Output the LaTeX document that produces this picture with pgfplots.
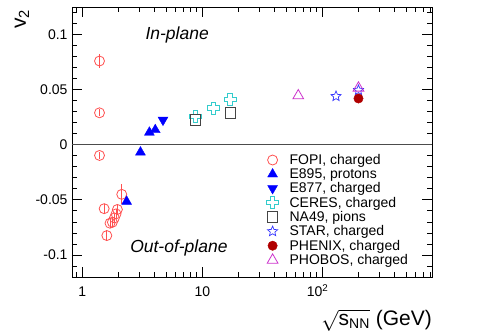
\documentclass[border=0pt]{standalone}
\usepackage{fontspec}
\setmainfont{Liberation Sans}
\usepackage{pgfplots}
\pgfplotsset{compat=1.18}

\definecolor{fopi}{RGB}{255,80,80}
\definecolor{eblue}{RGB}{0,0,255}
\definecolor{ceres}{RGB}{51,204,204}
\definecolor{na49}{RGB}{68,68,68}
\definecolor{star}{RGB}{51,51,255}
\definecolor{phenix}{RGB}{176,0,0}
\definecolor{phobos}{RGB}{204,51,204}

% open cross (outline of a plus sign)
\pgfdeclareplotmark{ocross}{%
  \pgfpathmoveto{\pgfpoint{0.35\pgfplotmarksize}{\pgfplotmarksize}}%
  \pgfpathlineto{\pgfpoint{0.35\pgfplotmarksize}{0.35\pgfplotmarksize}}%
  \pgfpathlineto{\pgfpoint{\pgfplotmarksize}{0.35\pgfplotmarksize}}%
  \pgfpathlineto{\pgfpoint{\pgfplotmarksize}{-0.35\pgfplotmarksize}}%
  \pgfpathlineto{\pgfpoint{0.35\pgfplotmarksize}{-0.35\pgfplotmarksize}}%
  \pgfpathlineto{\pgfpoint{0.35\pgfplotmarksize}{-\pgfplotmarksize}}%
  \pgfpathlineto{\pgfpoint{-0.35\pgfplotmarksize}{-\pgfplotmarksize}}%
  \pgfpathlineto{\pgfpoint{-0.35\pgfplotmarksize}{-0.35\pgfplotmarksize}}%
  \pgfpathlineto{\pgfpoint{-\pgfplotmarksize}{-0.35\pgfplotmarksize}}%
  \pgfpathlineto{\pgfpoint{-\pgfplotmarksize}{0.35\pgfplotmarksize}}%
  \pgfpathlineto{\pgfpoint{-0.35\pgfplotmarksize}{0.35\pgfplotmarksize}}%
  \pgfpathlineto{\pgfpoint{-0.35\pgfplotmarksize}{\pgfplotmarksize}}%
  \pgfpathclose
  \pgfusepathqstroke
}
% open five-pointed star
\pgfdeclareplotmark{ostar}{%
  \pgfpathmoveto{\pgfpointpolar{90}{\pgfplotmarksize}}%
  \pgfpathlineto{\pgfpointpolar{126}{0.45\pgfplotmarksize}}%
  \pgfpathlineto{\pgfpointpolar{162}{\pgfplotmarksize}}%
  \pgfpathlineto{\pgfpointpolar{198}{0.45\pgfplotmarksize}}%
  \pgfpathlineto{\pgfpointpolar{234}{\pgfplotmarksize}}%
  \pgfpathlineto{\pgfpointpolar{270}{0.45\pgfplotmarksize}}%
  \pgfpathlineto{\pgfpointpolar{306}{\pgfplotmarksize}}%
  \pgfpathlineto{\pgfpointpolar{342}{0.45\pgfplotmarksize}}%
  \pgfpathlineto{\pgfpointpolar{18}{\pgfplotmarksize}}%
  \pgfpathlineto{\pgfpointpolar{54}{0.45\pgfplotmarksize}}%
  \pgfpathclose
  \pgfusepathqstroke
}

\begin{document}
\begin{tikzpicture}
\begin{axis}[
  name=ax,
  at={(0,0)}, anchor=south west,
  scale only axis,
  width=360pt, height=270pt,
  xmode=log,
  xmin=0.82, xmax=820,
  ymin=-0.12, ymax=0.125,
  xtick={1,10,100},
  xticklabels={1,10,\makebox[0pt][r]{10}\makebox[0pt][l]{\textsuperscript{2}}},
  minor xtick={0.9,2,3,4,5,6,7,8,9,20,30,40,50,60,70,80,90,200,300,400,500,600,700,800},
  ytick={-0.1,-0.05,0,0.05,0.1},
  yticklabels={-0.1,-0.05,0,0.05,0.1},
  minor ytick={-0.11,-0.09,-0.08,-0.07,-0.06,-0.04,-0.03,-0.02,-0.01,0.01,0.02,0.03,0.04,0.06,0.07,0.08,0.09,0.11,0.12},
  tick align=inside,
  major tick length=10pt,
  minor tick length=5pt,
  tick style={black, line width=0.8pt},
  axis line style={line width=0.9pt},
  ticklabel style={font=\fontsize{14}{14}\selectfont},
  xticklabel style={anchor=base, yshift=-19.5pt, inner sep=0.5pt},
  yticklabel style={xshift=-1pt},
  xlabel={$\sqrt{\mbox{s}_{\mbox{\fontsize{14}{14}\selectfont NN}}}$ (GeV)},
  xlabel style={font=\fontsize{21}{21}\selectfont, inner sep=0pt, at={(axis description cs:1,-0.179)}, anchor=base east},
  ylabel={v\textsubscript{2}},
  ylabel style={font=\fontsize{21}{21}\selectfont, at={(axis description cs:-0.139,0.955)}, anchor=center},
  legend style={draw=none, fill=none, font=\fontsize{14}{14}\selectfont,
    at={(axis description cs:0.54,0.463)}, anchor=north west,
    inner sep=0pt, row sep=-1.3pt, cells={anchor=west},
    /tikz/every odd column/.append style={column sep=9pt}},
  legend cell align=left,
]
\draw[line width=0.8pt, black!70] (axis cs:0.82,0) -- (axis cs:820,0);

\addplot+[only marks, mark=o, mark size=5pt, color=fopi, line width=0.8pt,
  error bars/.cd, y dir=both, y explicit, error bar style={line width=0.8pt}, error mark=none]
  table[x=x, y=y, y error=e] {
x y e
1.39 0.076 0.006
1.39 0.029 0.003
1.39 -0.0097 0.003
2.13 -0.045 0.009
1.52 -0.058 0.004
1.96 -0.0587 0.004
1.91 -0.0627 0.004
1.85 -0.0664 0.004
1.78 -0.0703 0.004
1.70 -0.0712 0.004
1.60 -0.0824 0.005
};
\addlegendentry{FOPI, charged}

\addplot[only marks, mark=triangle*, mark size=5.7pt, color=eblue, fill=eblue]
  coordinates {(2.34,-0.0515) (3.05,-0.0068) (3.62,0.0112) (4.05,0.0135)};
\addlegendentry{E895, protons}

\addplot[only marks, mark=triangle*, mark size=5.7pt, color=eblue, fill=eblue, mark options={rotate=180}]
  coordinates {(4.7,0.0225)};
\addlegendentry{E877, charged}

\addplot[only marks, mark=ocross, mark size=6pt, color=ceres, line width=0.9pt]
  coordinates {(8.8,0.0255) (12.4,0.0334) (17.0,0.0412)};
\addlegendentry{CERES, charged}

\addplot[only marks, mark=square, mark size=5.2pt, color=na49, line width=0.9pt]
  coordinates {(8.8,0.0225) (17.2,0.029)};
\addlegendentry{NA49, pions}

\addplot[only marks, mark=ostar, mark size=5.3pt, color=star, line width=0.7pt]
  coordinates {(130,0.044) (200,0.0495)};
\addlegendentry{STAR, charged}

\addplot[only marks, mark=*, mark size=4.7pt, color=phenix, fill=phenix]
  coordinates {(200,0.042)};
\addlegendentry{PHENIX, charged}

\addplot[only marks, mark=triangle, mark size=6.2pt, color=phobos, line width=0.8pt]
  coordinates {(63,0.0445) (200,0.0515)};
\addlegendentry{PHOBOS, charged}

\node[font=\fontsize{17.5}{17.5}\selectfont\itshape] at (axis description cs:0.292,0.896) {In-plane};
\node[font=\fontsize{17.5}{17.5}\selectfont\itshape] at (axis description cs:0.297,0.107) {Out-of-plane};
\end{axis}
\pgfresetboundingbox
\path (-72pt,-56pt) rectangle (406pt,277pt);
\end{tikzpicture}
\end{document}
